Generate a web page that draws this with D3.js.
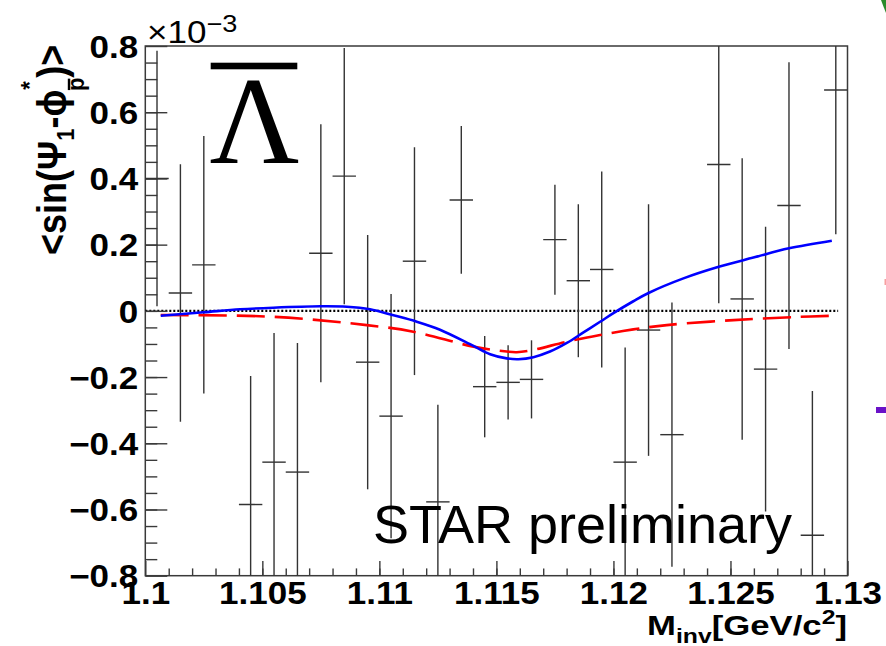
<!DOCTYPE html>
<html>
<head>
<meta charset="utf-8">
<script src="https://cdn.jsdelivr.net/npm/d3@7"></script>
<style>
  html, body { margin: 0; padding: 0; background: #ffffff; overflow: hidden; }
  svg { display: block; }
  text { font-family: "Liberation Sans", Arial, Helvetica, sans-serif; }
  text.serif { font-family: "Liberation Serif", "Times New Roman", "DejaVu Serif", serif; }
</style>
</head>
<body>
<svg id="chart" width="886" height="646"></svg>
<script>
// Histogram bin centres, invariant mass (GeV/c^2)
const massBins = [1.1005, 1.1015, 1.1025, 1.1045, 1.1055, 1.1065, 1.1075, 1.1085, 1.1095, 1.1105,
                  1.1115, 1.1125, 1.1135, 1.1145, 1.1155, 1.1165, 1.1175, 1.1185, 1.1195, 1.1205,
                  1.1215, 1.1225, 1.1245, 1.1255, 1.1265, 1.1275, 1.1285, 1.1295];
// <sin(Psi_1 - phi*_pbar)> in units of 1e-3
const correlator = [0.400, 0.054, 0.139, -0.585, -0.457, -0.487, 0.174, 0.407, -0.155, -0.318,
                    0.150, -0.577, 0.335, -0.229, -0.216, -0.207, 0.215, 0.091, 0.125, -0.457,
                    -0.058, -0.374, 0.442, 0.036, -0.176, 0.318, -0.678, 0.667];
const correlatorErr = [0.386, 0.389, 0.389, 0.388, 0.390, 0.390, 0.390, 0.387, 0.384, 0.369,
                       0.344, 0.293, 0.223, 0.153, 0.112, 0.118, 0.166, 0.231, 0.296, 0.346,
                       0.380, 0.399, 0.419, 0.425, 0.430, 0.433, 0.436, 0.436];
const binHalfWidth = 0.0005;

// Total fit (signal + background), solid blue
const fitMass  = [1.10066, 1.10248, 1.10405, 1.10547, 1.10747, 1.10861, 1.10960, 1.11060, 1.11160,
                  1.11259, 1.11402, 1.11473, 1.11544, 1.11594, 1.11658, 1.11729, 1.11801, 1.11872,
                  1.11943, 1.12000, 1.12085, 1.12150, 1.12299, 1.12450, 1.12598, 1.12750, 1.12933];
const fitValue = [-0.0146, -0.0044, 0.0047, 0.0095, 0.0137, 0.0125, 0.0047, -0.0134, -0.0328,
                  -0.0570, -0.106, -0.131, -0.1435, -0.146, -0.140, -0.123, -0.097, -0.065,
                  -0.033, -0.007, 0.029, 0.054, 0.098, 0.133, 0.161, 0.189, 0.212];

// Signal-fraction weighted component, dashed red
const sigMass  = [1.10066, 1.10547, 1.10946, 1.11145, 1.11402, 1.11544, 1.11587, 1.11658, 1.11801,
                  1.11943, 1.12085, 1.12228, 1.12513, 1.12798, 1.12933];
const sigValue = [-0.0125, -0.018, -0.043, -0.063, -0.108, -0.123, -0.125, -0.118, -0.093,
                  -0.073, -0.056, -0.043, -0.028, -0.018, -0.015];

// Axis ticks
const xMajorTicks  = [1.1, 1.105, 1.11, 1.115, 1.12, 1.125, 1.13];
const xTickLabels  = ["1.1", "1.105", "1.11", "1.115", "1.12", "1.125", "1.13"];
const xMinorTicks  = d3.range(1.101, 1.1295, 0.001);
const yMajorTicks  = [-0.8, -0.6, -0.4, -0.2, 0, 0.2, 0.4, 0.6, 0.8];
const yTickLabels  = ["\u22120.8", "\u22120.6", "\u22120.4", "\u22120.2", "0", "0.2", "0.4", "0.6", "0.8"];
const yMinorTicks  = d3.range(-0.75, 0.8, 0.05);

const svg = d3.select("#chart");
const frame = { left: 145.3, right: 847.5, top: 46, bottom: 575.7 };

const x = d3.scaleLinear().domain([1.1, 1.13]).range([frame.left, frame.right]);
const y = d3.scaleLinear().domain([-0.8, 0.8]).range([frame.bottom, frame.top]);

const stretch = 1.13;   // wide bold Helvetica look of the labels
const axisColor = "#3a3a3a";

svg.append("defs").append("clipPath").attr("id", "plotClip")
  .append("rect")
  .attr("x", frame.left).attr("y", frame.top)
  .attr("width", frame.right - frame.left).attr("height", frame.bottom - frame.top);

// Frame
svg.append("rect")
  .attr("x", frame.left).attr("y", frame.top)
  .attr("width", frame.right - frame.left).attr("height", frame.bottom - frame.top)
  .attr("fill", "none").attr("stroke", axisColor).attr("stroke-width", 1.5);

// Zero reference, dotted
svg.append("line")
  .attr("x1", x(1.1)).attr("x2", x(1.1296))
  .attr("y1", y(0)).attr("y2", y(0))
  .attr("stroke", "#000").attr("stroke-width", 2.2).attr("stroke-dasharray", "2,2");

// Y axis: minor ticks
svg.append("g")
  .attr("transform", `translate(${frame.left},0)`)
  .call(d3.axisLeft(y).tickValues(yMinorTicks).tickSizeInner(-12).tickSizeOuter(0).tickFormat(""))
  .call(g => g.select(".domain").remove())
  .call(g => g.selectAll("line").attr("stroke", axisColor).attr("stroke-width", 1.4));

// Y axis: major ticks and labels
svg.append("g")
  .attr("transform", `translate(${frame.left},0)`)
  .call(d3.axisLeft(y).tickValues(yMajorTicks).tickSizeInner(-22).tickSizeOuter(0).tickPadding(7)
        .tickFormat((d, i) => yTickLabels[i]))
  .call(g => g.select(".domain").remove())
  .call(g => g.selectAll("line").attr("stroke", axisColor).attr("stroke-width", 1.4))
  .call(g => g.selectAll("text")
      .attr("font-size", 31).attr("font-weight", "bold").attr("fill", "#000")
      .attr("x", -7 / stretch).attr("dy", "0.36em")
      .attr("transform", `scale(${stretch},1)`));

// X axis: minor ticks
svg.append("g")
  .attr("transform", `translate(0,${frame.bottom})`)
  .call(d3.axisBottom(x).tickValues(xMinorTicks).tickSizeInner(-7.3).tickSizeOuter(0).tickFormat(""))
  .call(g => g.select(".domain").remove())
  .call(g => g.selectAll("line").attr("stroke", axisColor).attr("stroke-width", 1.4));

// X axis: major ticks and labels
svg.append("g")
  .attr("transform", `translate(0,${frame.bottom})`)
  .call(d3.axisBottom(x).tickValues(xMajorTicks).tickSizeInner(-14.7).tickSizeOuter(0).tickPadding(6)
        .tickFormat((d, i) => xTickLabels[i]))
  .call(g => g.select(".domain").remove())
  .call(g => g.selectAll("line").attr("stroke", axisColor).attr("stroke-width", 1.4))
  .call(g => g.selectAll("text")
      .attr("font-size", 31).attr("font-weight", "bold").attr("fill", "#000")
      .attr("transform", `scale(${stretch},1)`));

// Data points with error bars
const points = massBins.map((m, i) => ({ m, v: correlator[i], e: correlatorErr[i] }));
const errG = svg.append("g").attr("clip-path", "url(#plotClip)")
  .attr("stroke", "#333").attr("stroke-width", 1.4);
errG.selectAll("line.vert").data(points).join("line").attr("class", "vert")
  .attr("x1", d => x(d.m)).attr("x2", d => x(d.m))
  .attr("y1", d => y(d.v + d.e)).attr("y2", d => y(d.v - d.e));
errG.selectAll("line.horz").data(points).join("line").attr("class", "horz")
  .attr("x1", d => x(d.m - binHalfWidth)).attr("x2", d => x(d.m + binHalfWidth))
  .attr("y1", d => y(d.v)).attr("y2", d => y(d.v));

// Fit curves
const line = d3.line().x(d => x(d[0])).y(d => y(d[1])).curve(d3.curveCatmullRom.alpha(0.5));
svg.append("path")
  .datum(sigMass.map((m, i) => [m, sigValue[i]]))
  .attr("d", line).attr("fill", "none")
  .attr("stroke", "#ff0000").attr("stroke-width", 2.6).attr("stroke-dasharray", "28,10");
svg.append("path")
  .datum(fitMass.map((m, i) => [m, fitValue[i]]))
  .attr("d", line).attr("fill", "none")
  .attr("stroke", "#0000ff").attr("stroke-width", 2.6);

// Exponent of the y axis
const expo = svg.append("g").attr("transform", "translate(147,43)");
expo.append("text").attr("transform", `scale(${stretch},1)`)
  .attr("font-size", 31).attr("fill", "#000")
  .text("\u00d710")
  .append("tspan").attr("font-size", 24).attr("dy", -11).text("\u22123");

// Y axis title, rotated
const yTitle = svg.append("g").attr("transform", "translate(66,255) rotate(-90) scale(1,1.12)");
const yt = yTitle.append("text").attr("font-size", 36).attr("font-weight", "bold").attr("fill", "#000");
yt.append("tspan").text("<sin(\u03a8");
yt.append("tspan").attr("font-size", 22).attr("dy", 7).text("1");
yt.append("tspan").attr("font-size", 36).attr("dy", -7).text("-\u03d5");
yt.append("tspan").attr("font-size", 22).attr("dy", -25).text("*");
yt.append("tspan").attr("font-size", 22).attr("dx", -10).attr("dy", 41).text("p");
yt.append("tspan").attr("font-size", 36).attr("dy", -16).text(")>");
{
  // overbar on the anti-proton subscript
  const txt = yt.node().textContent;
  const idx = txt.indexOf("p");
  const bb = yt.node().getExtentOfChar(idx);
  yTitle.append("rect")
    .attr("x", bb.x + 1).attr("y", bb.y + bb.height * 0.22)
    .attr("width", bb.width - 2).attr("height", 2.2).attr("fill", "#000");
}

// X axis title
const xTitle = svg.append("g").attr("transform", "translate(847,635)");
const xt = xTitle.append("text").attr("text-anchor", "end")
  .attr("font-size", 28).attr("font-weight", "bold").attr("fill", "#000")
  .attr("transform", "scale(1.24,1)");
xt.append("tspan").text("M");
xt.append("tspan").attr("font-size", 20).attr("dy", 8).text("inv");
xt.append("tspan").attr("dy", -8).text("[GeV/c");
xt.append("tspan").attr("font-size", 20).attr("dy", -11).text("2");
xt.append("tspan").attr("dy", 11).text("]");

// Anti-Lambda label
svg.append("rect").attr("x", 210.7).attr("y", 62.7).attr("width", 86.6).attr("height", 6.6).attr("fill", "#000");
svg.append("text").attr("class", "serif")
  .attr("x", 254.5).attr("y", 162.7).attr("text-anchor", "middle")
  .attr("font-size", 124).attr("fill", "#000")
  .text("\u039b");

// Preliminary tag
svg.append("text")
  .attr("x", 373).attr("y", 542.7)
  .attr("font-size", 54).attr("fill", "#000")
  .text("STAR preliminary");

// Slide fragments along the right edge
svg.append("path").attr("d", "M881,0 Q884,8 886,13 L886,0 Z").attr("fill", "#2a8a2a");
svg.append("rect").attr("x", 884.5).attr("y", 279).attr("width", 1.5).attr("height", 6).attr("fill", "#f7a0a0");
svg.append("rect").attr("x", 876).attr("y", 407).attr("width", 10).attr("height", 6).attr("fill", "#6a12c8");
</script>
</body>
</html>
